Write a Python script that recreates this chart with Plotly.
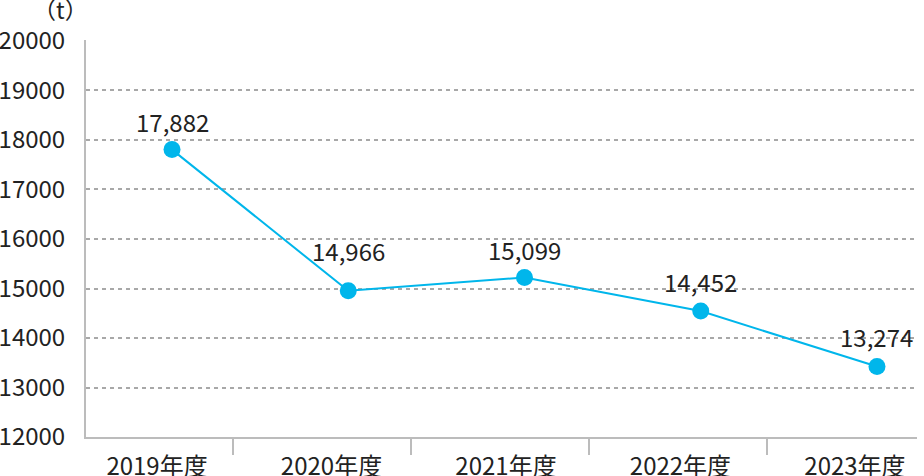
import plotly.graph_objects as go

# Data
categories = ["2019年度", "2020年度", "2021年度", "2022年度", "2023年度"]
values = [17806, 14953, 15222, 14544, 13423]          # plotted positions
value_labels = ["17,882", "14,966", "15,099", "14,452", "13,274"]
y_ticks = [12000, 13000, 14000, 15000, 16000, 17000, 18000, 19000, 20000]
unit_label = "（t）"

FONT = "Noto Sans CJK JP"
TEXT = "#222222"
BLUE = "#00b6eb"
AXIS = "#bcbcbc"
GRID = "#a8a8a8"

idx = list(range(len(categories)))
label_pos = [i * 0.99 - 0.085 for i in idx]
boundaries = [0.344 + 1.011 * k for k in range(len(categories) - 1)]
label_shift = [28, 40, 28, 30, 30]

fig = go.Figure()
fig.add_trace(go.Scatter(
    x=idx, y=values, mode="lines+markers",
    line=dict(color=BLUE, width=2),
    marker=dict(color=BLUE, size=17),
    hoverinfo="skip", showlegend=False, cliponaxis=False,
))

for i, (v, t) in enumerate(zip(values, value_labels)):
    fig.add_annotation(x=i, y=v, text=t, showarrow=False, yshift=label_shift[i],
                       xanchor="center", yanchor="middle",
                       font=dict(family=FONT, size=24, color=TEXT))

fig.add_annotation(xref="paper", yref="paper", x=-0.031, y=1.0, yshift=31,
                   xanchor="center", yanchor="middle",
                   text=unit_label, showarrow=False,
                   font=dict(family=FONT, size=23, color=TEXT))

fig.update_layout(
    width=924, height=476,
    margin=dict(l=86, r=7, t=40, b=39, autoexpand=False),
    paper_bgcolor="white", plot_bgcolor="white",
    font=dict(family=FONT, size=24, color=TEXT),
    xaxis=dict(
        range=[-0.488, 4.227], showgrid=False, zeroline=False, automargin=False,
        tickmode="array", tickvals=label_pos, ticktext=categories,
        ticks="", ticklabelstandoff=7,
        showline=True, linecolor=AXIS, linewidth=2,
        minor=dict(tickmode="array", tickvals=boundaries, ticks="outside",
                   ticklen=16, tickwidth=2, tickcolor=AXIS, showgrid=False),
        tickfont=dict(family=FONT, size=24, color=TEXT),
    ),
    yaxis=dict(
        range=[12000, 20020], tickmode="array", tickvals=y_ticks,
        ticktext=[str(v) for v in y_ticks], automargin=False,
        showgrid=True, gridcolor=GRID, griddash="4px,4px", gridwidth=1.5,
        zeroline=False, showline=True, linecolor=AXIS, linewidth=2,
        ticks="", ticklabelstandoff=14,
        tickfont=dict(family=FONT, size=24, color=TEXT),
    ),
)

fig.write_html("out.html", config={"displayModeBar": False},
               post_script="document.body.style.margin='0px';")
